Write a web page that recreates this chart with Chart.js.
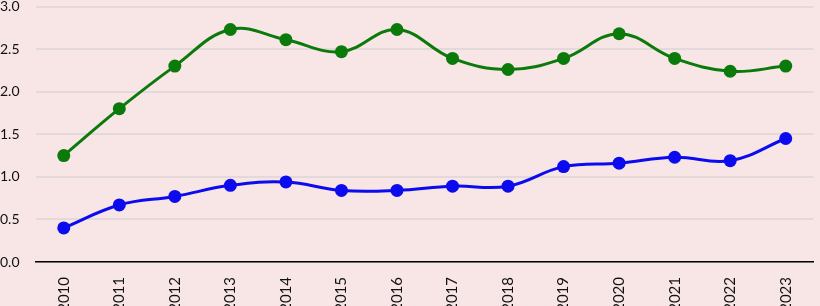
<!DOCTYPE html>
<html>
<head>
<meta charset="utf-8">
<script src="https://cdn.jsdelivr.net/npm/chart.js@4.4.1/dist/chart.umd.min.js"></script>
<style>
    html, body { margin: 0; padding: 0; background: #f8e6e7; }
    #wrap { width: 820px; height: 306px; position: relative; }
</style>
</head>
<body>
<div id="wrap"><canvas id="chart"></canvas></div>
<script>
// Data
const years = ['2010', '2011', '2012', '2013', '2014', '2015', '2016',
    '2017', '2018', '2019', '2020', '2021', '2022', '2023'];
const greenSeries = [1.25, 1.80, 2.30, 2.73, 2.61, 2.47, 2.73, 2.39, 2.26, 2.39, 2.68, 2.39, 2.24, 2.30];
const blueSeries = [0.40, 0.67, 0.77, 0.90, 0.94, 0.84, 0.84, 0.89, 0.89, 1.12, 1.16, 1.23, 1.19, 1.45];
const yTicks = [0, 0.5, 1, 1.5, 2, 2.5, 3];

const ctx = document.getElementById('chart').getContext('2d');

new Chart(ctx, {
    type: 'line',
    data: {
        labels: years,
        datasets: [{
            data: greenSeries,
            borderColor: '#0b7a0b',
            backgroundColor: '#0b7a0b',
            borderWidth: 3,
            pointRadius: 6.5,
            pointBorderWidth: 0,
            tension: 0.4
        }, {
            data: blueSeries,
            borderColor: '#0b0bee',
            backgroundColor: '#0b0bee',
            borderWidth: 3,
            pointRadius: 6.5,
            pointBorderWidth: 0,
            tension: 0.4
        }]
    },
    options: {
        responsive: true,
        maintainAspectRatio: false,
        animation: false,
        layout: { padding: 0 },
        plugins: {
            legend: { display: false },
            tooltip: { enabled: false }
        },
        scales: {
            x: {
                offset: true,
                grid: { display: false },
                border: { color: '#000', width: 1.5 },
                ticks: {
                    color: '#111',
                    font: { family: 'Lato', size: 15 },
                    minRotation: 90,
                    maxRotation: 90,
                    padding: 7
                },
                afterFit(scale) { scale.height = 44; }
            },
            y: {
                min: 0,
                max: 3,
                afterBuildTicks(scale) {
                    scale.ticks = yTicks.map(v => ({ value: v }));
                },
                grid: { color: '#e4d9da', lineWidth: 2, drawTicks: false },
                border: { display: false },
                ticks: {
                    color: '#111',
                    font: { family: 'Lato', size: 14 },
                    crossAlign: 'far',
                    callback: v => Number(v).toFixed(1)
                },
                afterFit(scale) {
                    scale.width = 36;
                    scale.paddingTop = 5;
                }
            }
        }
    }
});
</script>
</body>
</html>
